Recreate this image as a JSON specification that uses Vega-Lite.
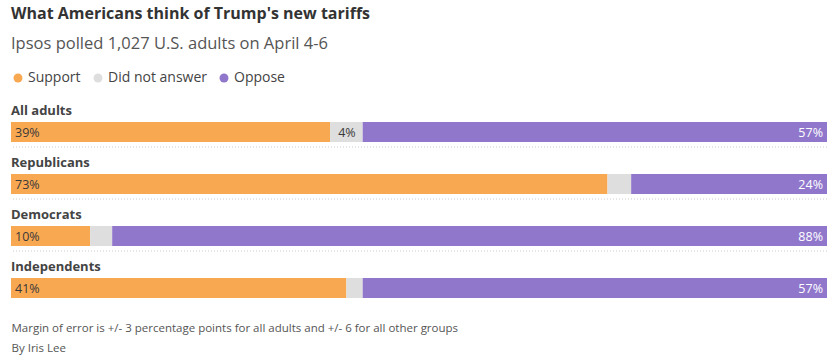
{
  "$schema": "https://vega.github.io/schema/vega-lite/v6.json",
  "width": 816,
  "height": 208,
  "autosize": {"type": "pad"},
  "padding": {"left": 10, "right": 10, "top": 5, "bottom": 20},
  "background": "white",
  "title": {
    "text": "What Americans think of Trump's new tariffs",
    "subtitle": "Ipsos polled 1,027 U.S. adults on April 4-6",
    "anchor": "start",
    "frame": "group",
    "font": "Open Sans",
    "fontSize": 16,
    "fontWeight": "bold",
    "color": "#333333",
    "subtitleFont": "Open Sans",
    "subtitleFontSize": 16.5,
    "subtitleColor": "#555555",
    "subtitlePadding": 14,
    "offset": 19
  },
  "data": {
    "values": [
      {"group": "All adults", "response": "Support", "value": 39.1, "ord": 1, "label": "39%"},
      {"group": "All adults", "response": "Did not answer", "value": 4.0, "ord": 2, "label": "4%"},
      {"group": "All adults", "response": "Oppose", "value": 56.9, "ord": 3, "label": "57%"},
      {"group": "Republicans", "response": "Support", "value": 73.1, "ord": 1, "label": "73%"},
      {"group": "Republicans", "response": "Did not answer", "value": 2.9, "ord": 2, "label": "3%"},
      {"group": "Republicans", "response": "Oppose", "value": 24.0, "ord": 3, "label": "24%"},
      {"group": "Democrats", "response": "Support", "value": 9.7, "ord": 1, "label": "10%"},
      {"group": "Democrats", "response": "Did not answer", "value": 2.7, "ord": 2, "label": "3%"},
      {"group": "Democrats", "response": "Oppose", "value": 87.6, "ord": 3, "label": "88%"},
      {"group": "Independents", "response": "Support", "value": 41.1, "ord": 1, "label": "41%"},
      {"group": "Independents", "response": "Did not answer", "value": 2.0, "ord": 2, "label": "2%"},
      {"group": "Independents", "response": "Oppose", "value": 56.9, "ord": 3, "label": "57%"}
    ]
  },
  "transform": [
    {"stack": "value", "groupby": ["group"], "sort": [{"field": "ord"}], "as": ["v0", "v1"]}
  ],
  "encoding": {
    "y": {
      "field": "group",
      "type": "nominal",
      "sort": ["All adults", "Republicans", "Democrats", "Independents"],
      "scale": {"paddingInner": 0, "paddingOuter": 0},
      "axis": null
    }
  },
  "layer": [
    {
      "mark": {"type": "rule", "color": "#cccccc", "strokeDash": [1, 2], "strokeWidth": 1, "yOffset": -5},
      "transform": [{"filter": "datum.response == 'Support' && datum.group != 'Independents'"}],
      "encoding": {
        "y": {"field": "group", "type": "nominal", "bandPosition": 1, "sort": ["All adults", "Republicans", "Democrats", "Independents"]}
      }
    },
    {
      "mark": {"type": "bar", "height": 20, "yOffset": 6},
      "encoding": {
        "x": {
          "field": "v0",
          "type": "quantitative",
          "scale": {"domain": [0, 100], "nice": false},
          "axis": {
            "orient": "bottom",
            "labels": false,
            "ticks": false,
            "domain": false,
            "grid": false,
            "title": ["Margin of error is +/- 3 percentage points for all adults and +/- 6 for all other groups", "By Iris Lee"],
            "titleAnchor": "start",
            "titleAlign": "left",
            "titleBaseline": "top",
            "titleFont": "Open Sans",
            "titleFontSize": 11.5,
            "titleFontWeight": "normal",
            "titleColor": "#555555",
            "titleLineHeight": 20,
            "titlePadding": 14
          }
        },
        "x2": {"field": "v1"},
        "color": {
          "field": "response",
          "type": "nominal",
          "scale": {
            "domain": ["Support", "Did not answer", "Oppose"],
            "range": ["#f9a852", "#dedede", "#9177cc"]
          },
          "legend": {
            "title": null,
            "orient": "top",
            "direction": "horizontal",
            "symbolType": "circle",
            "symbolSize": 80,
            "symbolStrokeWidth": 0,
            "labelFont": "Open Sans",
            "labelFontSize": 14,
            "labelColor": "#444444",
            "labelOffset": 3,
            "columnPadding": 10,
            "offset": 15
          }
        }
      }
    },
    {
      "mark": {"type": "text", "align": "left", "baseline": "middle", "dx": 4, "yOffset": 7, "font": "Open Sans", "fontSize": 12.5, "color": "#3a3a3a"},
      "transform": [{"filter": "datum.response == 'Support'"}],
      "encoding": {
        "x": {"field": "v0", "type": "quantitative"},
        "text": {"field": "label"}
      }
    },
    {
      "mark": {"type": "text", "align": "right", "baseline": "middle", "dx": -7, "yOffset": 7, "font": "Open Sans", "fontSize": 12.5, "color": "#3a3a3a"},
      "transform": [{"filter": "datum.response == 'Did not answer' && datum.value >= 4"}],
      "encoding": {
        "x": {"field": "v1", "type": "quantitative"},
        "text": {"field": "label"}
      }
    },
    {
      "mark": {"type": "text", "align": "right", "baseline": "middle", "dx": -4, "yOffset": 7, "font": "Open Sans", "fontSize": 12.5, "color": "#ffffff"},
      "transform": [{"filter": "datum.response == 'Oppose'"}],
      "encoding": {
        "x": {"field": "v1", "type": "quantitative"},
        "text": {"field": "label"}
      }
    },
    {
      "mark": {"type": "text", "align": "left", "baseline": "middle", "yOffset": 11, "font": "Open Sans", "fontSize": 13, "fontWeight": "bold", "color": "#444444"},
      "transform": [{"filter": "datum.response == 'Support'"}],
      "encoding": {
        "x": {"datum": 0, "type": "quantitative"},
        "y": {"field": "group", "type": "nominal", "bandPosition": 0, "sort": ["All adults", "Republicans", "Democrats", "Independents"]},
        "text": {"field": "group"}
      }
    }
  ],
  "config": {
    "view": {"stroke": null}
  }
}
